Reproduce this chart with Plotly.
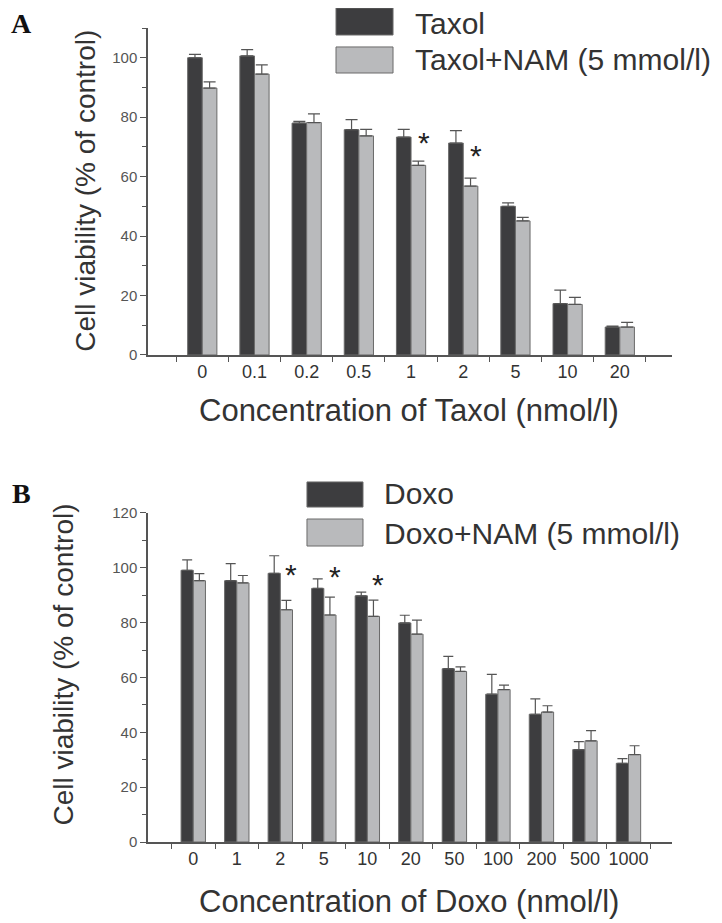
import plotly.graph_objects as go

# ---- Data: panel A (Taxol) ----
taxol_conc = ["0", "0.1", "0.2", "0.5", "1", "2", "5", "10", "20"]
taxol_mean = [100.0, 100.6, 78.0, 75.8, 73.3, 71.3, 50.0, 17.3, 9.4]
taxol_err = [1.1, 2.1, 0.6, 3.4, 2.6, 4.2, 1.2, 4.5, 0.3]
taxol_nam_mean = [89.8, 94.5, 78.2, 73.7, 63.8, 56.8, 45.1, 17.0, 9.4]
taxol_nam_err = [2.1, 3.1, 2.9, 2.2, 1.4, 2.7, 1.2, 2.4, 1.6]
taxol_sig_idx = [4, 5]
taxol_sig_y = [72.1, 67.8]

# ---- Data: panel B (Doxo) ----
doxo_conc = ["0", "1", "2", "5", "10", "20", "50", "100", "200", "500", "1000"]
doxo_mean = [99.1, 95.3, 98.0, 92.5, 89.8, 79.9, 63.2, 53.9, 46.6, 33.7, 28.7]
doxo_err = [3.8, 6.2, 6.4, 3.5, 1.3, 2.8, 4.5, 7.2, 5.6, 2.9, 1.7]
doxo_nam_mean = [95.3, 94.5, 84.7, 82.8, 82.3, 75.8, 62.2, 55.6, 47.4, 36.9, 31.9]
doxo_nam_err = [2.6, 2.7, 3.4, 6.5, 5.9, 5.1, 1.7, 1.6, 2.3, 3.7, 3.2]
doxo_sig_idx = [2, 3, 4]
doxo_sig_y = [98.8, 97.8, 95.1]

DARK = "#3d3d3f"
LIGHT = "#b9babc"
EDGE = "#6a6a6a"
ERRC = "#555555"
FONT = "Liberation Sans, Arial, sans-serif"

fig = go.Figure()

def add_bars(x, m1, e1, m2, e2, xa, ya, w):
    fig.add_trace(go.Bar(x=x, y=m1, xaxis=xa, yaxis=ya, marker=dict(color=DARK, line=dict(color=EDGE, width=1)),
                         error_y=dict(type="data", array=e1, arrayminus=[0]*len(e1), symmetric=False,
                                      color=ERRC, thickness=1.2, width=w),
                         offsetgroup="a", showlegend=False))
    fig.add_trace(go.Bar(x=x, y=m2, xaxis=xa, yaxis=ya, marker=dict(color=LIGHT, line=dict(color=EDGE, width=1)),
                         error_y=dict(type="data", array=e2, arrayminus=[0]*len(e2), symmetric=False,
                                      color=ERRC, thickness=1.2, width=w),
                         offsetgroup="b", showlegend=False))

add_bars(taxol_conc, taxol_mean, taxol_err, taxol_nam_mean, taxol_nam_err, "x", "y", 6)
add_bars(doxo_conc, doxo_mean, doxo_err, doxo_nam_mean, doxo_nam_err, "x2", "y2", 5)

axis_common = dict(showline=True, linecolor="#555555", linewidth=1.5, showgrid=False, zeroline=False,
                   ticks="outside", tickcolor="#555555", tickwidth=1.2)

fig.update_layout(
    width=714, height=915,
    margin=dict(l=140, r=50, t=20, b=81),
    paper_bgcolor="white", plot_bgcolor="white",
    barmode="group", bargap=0.44, bargroupgap=0.0,
    font=dict(family=FONT, color="#333333"),
    xaxis=dict(**axis_common, type="category", tickson="boundaries", range=[-1.04, 9.0],
               anchor="y", domain=[0, 1], tickfont=dict(size=18, color="#333333"), ticklen=5,
               tickangle=0),
    yaxis=dict(**axis_common, range=[0, 110], dtick=20, tick0=0, anchor="x", domain=[0.5983, 1.0],
               tickfont=dict(size=15, color="#555555"), ticklen=6,
               minor=dict(dtick=10, ticks="outside", ticklen=4, tickcolor="#555555")),
    xaxis2=dict(**axis_common, type="category", tickson="boundaries", range=[-1.04, 11.0],
                anchor="y2", domain=[0, 1], tickfont=dict(size=18, color="#333333"), ticklen=5,
                tickangle=0),
    yaxis2=dict(**axis_common, range=[0, 120], dtick=20, tick0=0, anchor="x2", domain=[0.0, 0.4042],
                tickfont=dict(size=15, color="#555555"), ticklen=6,
                minor=dict(dtick=10, ticks="outside", ticklen=4, tickcolor="#555555")),
)

ann = []
# significance asterisks
for i, yv in zip(taxol_sig_idx, taxol_sig_y):
    ann.append(dict(x=i + 0.25, y=yv, xref="x", yref="y", text="*", showarrow=False,
                    font=dict(size=30, color="#222222"), yshift=-2))
for i, yv in zip(doxo_sig_idx, doxo_sig_y):
    ann.append(dict(x=i + 0.25, y=yv, xref="x2", yref="y2", text="*", showarrow=False,
                    font=dict(size=30, color="#222222"), yshift=-3))

# axis titles
ytitle = "Cell viability (% of control)"
ann.append(dict(x=-0.1183, y=0.80, xref="paper", yref="paper", text=ytitle, textangle=-90,
                showarrow=False, font=dict(size=28, color="#333333"), xanchor="center", yanchor="middle"))
ann.append(dict(x=-0.1603, y=0.218, xref="paper", yref="paper", text=ytitle, textangle=-90,
                showarrow=False, font=dict(size=28, color="#333333"), xanchor="center", yanchor="middle"))
ann.append(dict(x=0.498, y=0.5295, xref="paper", yref="paper", text="Concentration of Taxol (nmol/l)",
                showarrow=False, font=dict(size=31, color="#333333"), xanchor="center", yanchor="middle"))
ann.append(dict(x=0.498, y=-0.0725, xref="paper", yref="paper", text="Concentration of Doxo (nmol/l)",
                showarrow=False, font=dict(size=31, color="#333333"), xanchor="center", yanchor="middle"))

# panel letters
ann.append(dict(x=-0.2405, y=1.0061, xref="paper", yref="paper", text="<b>A</b>", showarrow=False,
                font=dict(size=28, family="Liberation Serif, Times New Roman, serif", color="#111111"),
                xanchor="center", yanchor="middle"))
ann.append(dict(x=-0.2405, y=0.4287, xref="paper", yref="paper", text="<b>B</b>", showarrow=False,
                font=dict(size=28, family="Liberation Serif, Times New Roman, serif", color="#111111"),
                xanchor="center", yanchor="middle"))

# legends (manual)
legend_txt = [("Taxol", 0.5057, 1.0061), ("Taxol+NAM (5 mmol/l)", 0.5057, 0.9607),
              ("Doxo", 0.4466, 0.4287), ("Doxo+NAM (5 mmol/l)", 0.4466, 0.3796)]
for t, x, y in legend_txt:
    ann.append(dict(x=x, y=y, xref="paper", yref="paper", text=t, showarrow=False,
                    font=dict(size=30, color="#333333"), xanchor="left", yanchor="middle"))

shapes = []
sw = [(0.3588, 0.4676, 0.9914, 1.0246, DARK), (0.3588, 0.4676, 0.9447, 0.9767, LIGHT),
      (0.3034, 0.4103, 0.4115, 0.4423, DARK), (0.3034, 0.4103, 0.3636, 0.3968, LIGHT)]
for x0, x1, y0, y1, c in sw:
    shapes.append(dict(type="rect", xref="paper", yref="paper", x0=x0, x1=x1, y0=y0, y1=y1,
                       fillcolor=c, line=dict(color=EDGE, width=1)))

fig.update_layout(annotations=ann, shapes=shapes)
fig.write_html("out.html")
